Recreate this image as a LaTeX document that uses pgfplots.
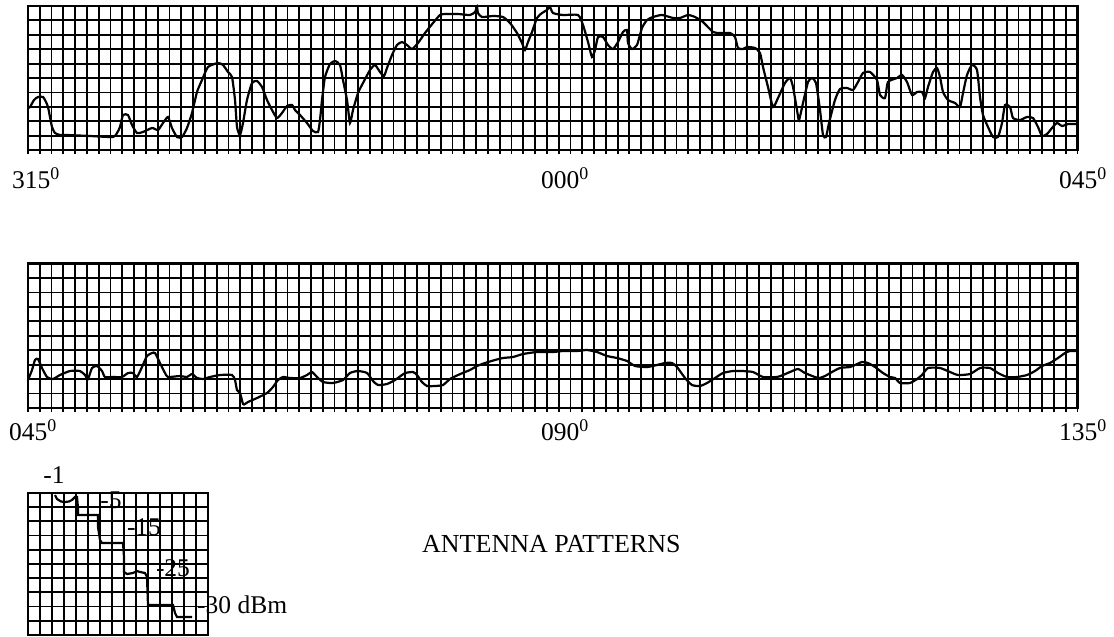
\documentclass[border=0pt]{standalone}
\usepackage{fontspec}
\setmainfont{Liberation Serif}
\usepackage{pgfplots}
\pgfplotsset{compat=1.18}

% grid paper look: every cell is a major grid cell
\pgfplotsset{
  paper/.style={
    scale only axis, y dir=reverse, clip=false,
    axis line style={black, line width=2.2bp},
    grid=major, major grid style={black, line width=1.8bp},
    xticklabels={}, yticklabels={},
    tick align=outside, xtick pos=bottom, ytick style={draw=none},
    xtick style={black, line width=1.8bp}, major tick length=4bp,
  },
  trace/.style={black, line width=2.2bp, smooth, tension=0.35, mark=none},
}
\tikzset{lbl/.style={font=\fontsize{25.5bp}{30bp}\selectfont, anchor=base, inner sep=0pt}}

\begin{document}
\begin{tikzpicture}[x=1bp,y=1bp]
\useasboundingbox (0,0) rectangle (1114,-637);

% 315 - 045
\begin{axis}[paper, at={(28bp,-150bp)}, anchor=south west,
  width=1049.5bp, height=144bp,
  xmin=28, xmax=1077.5, ymin=6, ymax=150,
  xtick={28,39.792,...,1078}, ytick={6,20.4,...,151}]
\addplot[trace] coordinates {
(28,108) (30,107) (34,100) (38,97) (43,97) (46,102) (48,107) (50,117) (52,127)
(55,133) (60,135) (67,135) (90,136) (113,137) (117,133) (120,127) (123,115)
(128,115) (132,125) (137,133) (143,132) (152,128) (158,130) (163,123) (168,117)
(172,128) (177,137) (182,137) (187,128) (192,113) (197,92) (202,80) (208,67)
(218,63) (223,65) (228,72) (232,77) (235,100) (237,127) (240,135) (243,123)
(247,100) (252,83) (257,81) (262,87) (267,100) (272,110) (277,118) (282,113)
(287,106) (292,105) (295,110) (300,115) (307,123) (313,131) (318,132) (320,120)
(322,100) (325,77) (330,64) (335,61) (340,65) (343,80) (347,100) (350,123)
(353,110) (358,93) (363,83) (370,70) (375,65) (380,72) (384,76) (387,68)
(392,55) (397,45) (402,42) (407,45) (412,49) (418,43) (425,33) (433,23)
(440,15) (445,14) (458,14) (470,15) (475,12) (477,7) (478,13) (482,17)
(493,16) (503,17) (510,23) (517,33) (522,43) (525,50) (528,42) (532,32)
(537,18) (542,13) (547,10) (550,7) (553,13) (563,15) (578,15) (583,25)
(588,42) (592,57) (595,50) (598,37) (603,37) (608,45) (613,49) (618,42)
(623,32) (627,30) (628,43) (632,49) (637,45) (642,28) (647,20) (653,17)
(662,15) (673,18) (680,18) (688,15) (695,17) (703,22) (713,32) (720,33)
(730,33) (735,37) (738,48) (743,49) (747,47) (755,48) (760,53) (763,67)
(768,87) (773,107) (778,98) (785,83) (790,78) (793,87) (797,110) (799,120)
(803,103) (808,82) (812,78) (816,83) (820,110) (823,135) (826,137) (829,123)
(835,100) (840,89) (847,88) (853,90) (858,82) (863,73) (870,72) (877,80)
(880,95) (885,98) (888,82) (897,78) (902,75) (907,82) (912,95) (917,92)
(922,92) (925,98) (928,87) (933,72) (937,68) (940,77) (943,92) (948,100)
(955,103) (960,107) (963,93) (967,75) (972,65) (977,70) (980,97) (983,115)
(988,127) (993,137) (998,137) (1002,123) (1005,105) (1010,107) (1013,118)
(1020,120) (1027,117) (1033,118) (1038,127) (1042,136) (1047,134) (1052,128)
(1057,123) (1062,126) (1068,124) (1077,124)
};
\node[lbl] at (axis cs:36,188) {315\textsuperscript{0}};
\node[lbl] at (axis cs:565,188) {000\textsuperscript{0}};
\node[lbl] at (axis cs:1083,188) {045\textsuperscript{0}};
\end{axis}

% 045 - 135
\begin{axis}[paper, at={(28bp,-408bp)}, anchor=south west,
  width=1049.5bp, height=144.5bp,
  xmin=28, xmax=1077.5, ymin=263.5, ymax=408,
  xtick={28,39.792,...,1078}, ytick={263.5,277.95,...,409}]
\addplot[trace] coordinates {
(28,380) (32,370) (35,360) (38,359) (42,368) (47,377) (53,379) (60,375)
(70,371) (80,371) (85,375) (88,379) (92,368) (97,366) (102,371) (105,377)
(113,377) (122,377) (128,373) (133,373) (137,377) (142,367) (147,356)
(152,353) (155,353) (160,363) (165,373) (168,377) (180,376) (187,377)
(192,374) (197,378) (203,379) (210,377) (220,375) (232,375) (235,380)
(237,390) (240,393) (243,404) (245,404) (248,402) (257,398) (267,393)
(273,387) (278,380) (283,377) (290,378) (300,378) (307,375) (312,372)
(317,377) (323,382) (333,383) (343,380) (350,373) (358,371) (367,373)
(373,381) (378,385) (387,384) (395,380) (402,375) (405,373) (413,372)
(417,375) (422,382) (427,386) (435,386) (443,385) (450,379) (458,375)
(465,372) (470,370) (477,366) (485,363) (495,360) (503,358) (513,357)
(523,354) (537,352) (553,352) (563,351) (577,351) (587,350) (597,352)
(607,356) (617,358) (627,361) (635,366) (647,367) (657,365) (665,363)
(672,363) (677,367) (685,378) (692,385) (700,386) (707,383) (715,378)
(723,373) (733,371) (742,371) (753,372) (763,377) (777,377) (783,375)
(790,372) (798,369) (805,373) (818,378) (825,376) (832,372) (840,368)
(850,367) (855,365) (862,362) (868,363) (875,367) (883,373) (890,377)
(895,378) (900,383) (910,383) (917,379) (922,375) (928,368) (940,368)
(950,372) (958,375) (970,374) (980,368) (990,368) (998,373) (1007,377)
(1017,377) (1027,375) (1035,371) (1042,366) (1050,363) (1058,358)
(1065,353) (1070,351) (1077,351)
};
\node[lbl] at (axis cs:33,440) {045\textsuperscript{0}};
\node[lbl] at (axis cs:565,440) {090\textsuperscript{0}};
\node[lbl] at (axis cs:1083,440) {135\textsuperscript{0}};
\end{axis}

% level key
\begin{axis}[paper, at={(28bp,-635bp)}, anchor=south west,
  width=180bp, height=142.3bp, major tick length=0pt,
  xmin=28, xmax=208, ymin=492.7, ymax=635,
  xtick={28,40,...,209}, ytick={492.7,506.93,...,636}]
\addplot[black, line width=2.2bp, mark=none] coordinates {
(55,495) (57,499) (61,501.5) (65,502) (69,501.5) (72,500) (75,497) (77,497)
(78,508) (78,515) (88,515) (98,515) (98,527) (100,540) (102,543) (123,543)
(124,557) (124,572) (127,574) (133,573) (137,571) (140,572) (145,573)
(147,577) (148,605) (173,605) (175,613) (177,617) (192,617)
};
\node[lbl] at (axis cs:54,483) {-1};
\node[lbl] at (axis cs:111,508) {-5};
\node[lbl] at (axis cs:144,535) {-15};
\node[lbl] at (axis cs:173,576) {-25};
\node[lbl, anchor=base west] at (axis cs:197,613) {-30 dBm};
\end{axis}

\node[font=\fontsize{26bp}{30bp}\selectfont, inner sep=0pt, anchor=base west] at (422,-552) {ANTENNA PATTERNS};
\end{tikzpicture}
\end{document}
